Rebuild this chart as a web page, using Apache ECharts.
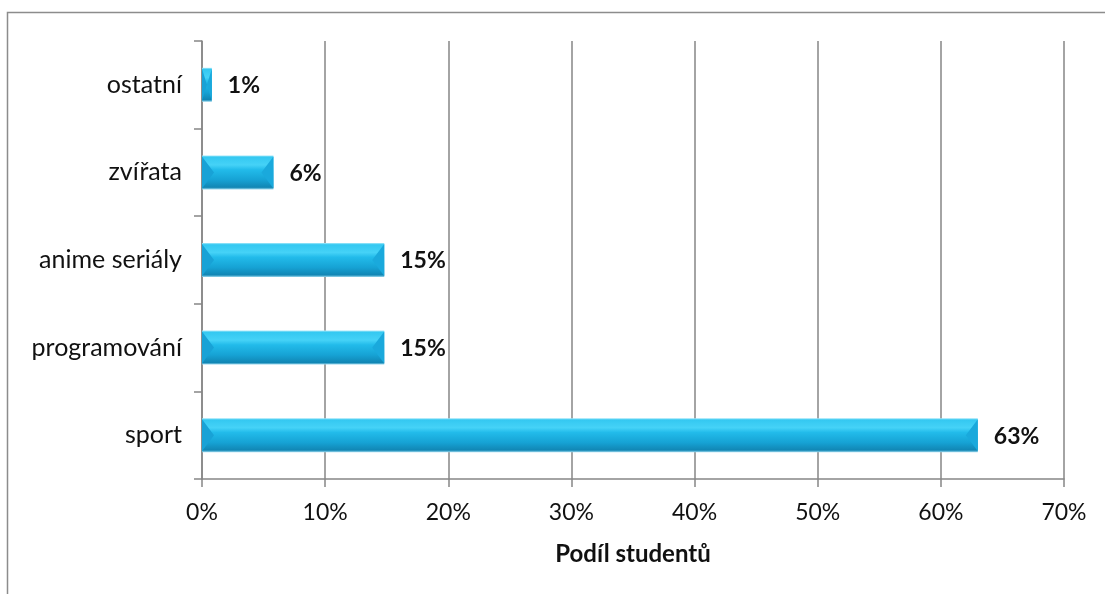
<!DOCTYPE html>
<html><head><meta charset="utf-8">
<script src="https://cdn.jsdelivr.net/npm/echarts@6/dist/echarts.min.js"></script>
<style>html,body{margin:0;padding:0;background:#fff}#c{width:1105px;height:594px}</style>
</head><body><div id="c"></div>
<script>
const categories = ['sport', 'programování', 'anime seriály', 'zvířata', 'ostatní'];
const shares = [63.0, 14.8, 14.8, 5.8, 0.8];
const xTicks = [0, 10, 20, 30, 40, 50, 60, 70];
const axisTitle = 'Podíl studentů';

const FONT = 'Lato, "Open Sans", sans-serif';
const chart = echarts.init(document.getElementById('c'));

function renderBar(params, api) {
  const cat = api.value(0);
  const val = api.value(1);
  const p0 = api.coord([0, cat]);
  const p1 = api.coord([val, cat]);
  const band = api.size([0, 1])[1];
  const h = band * 0.388;
  const x0 = p0[0], x1 = p1[0];
  const y0 = p0[1] - h / 2, y1 = p0[1] + h / 2, yc = p0[1];
  const w = x1 - x0;
  const b = Math.min(12, w / 2);
  const grad = new echarts.graphic.LinearGradient(0, 0, 0, 1, [
    {offset: 0, color: '#a6e8fa'},
    {offset: 0.05, color: '#34c8f1'},
    {offset: 0.28, color: '#45d2f7'},
    {offset: 0.42, color: '#22bbea'},
    {offset: 0.72, color: '#16a2d4'},
    {offset: 0.94, color: '#1186b4'},
    {offset: 1, color: '#9ad8ee'}
  ]);
  return {
    type: 'group',
    children: [
      {type: 'rect', shape: {x: x0, y: y0, width: w, height: h}, style: {fill: grad}},
      {type: 'polygon', shape: {points: [[x0, y0 + 1], [x0 + b, yc], [x0, y1 - 1]]}, style: {fill: '#18a2d6'}},
      {type: 'polygon', shape: {points: [[x1, y0 + 1], [x1 - b, yc], [x1, y1 - 1]]}, style: {fill: '#1aa9dc'}},
      {type: 'text', style: {
        text: Math.round(val) + '%', x: x1 + 16, y: yc + 1,
        align: 'left', verticalAlign: 'middle',
        fontSize: 23, fontWeight: 'bold', fill: '#111', fontFamily: FONT
      }}
    ]
  };
}

chart.setOption({
  animation: false,
  backgroundColor: '#fff',
  graphic: [{
    type: 'rect', silent: true, z: -1,
    shape: {x: 7.5, y: 12.5, width: 1300, height: 800},
    style: {fill: 'none', stroke: '#8c8c8c', lineWidth: 1.5}
  }],
  grid: {left: 202, right: 41, top: 41, bottom: 115},
  xAxis: {
    type: 'value', min: 0, max: 70, interval: 10,
    axisLine: {show: true, lineStyle: {color: '#868686', width: 1.5}},
    axisTick: {show: true, length: 8, lineStyle: {color: '#868686', width: 1.5}},
    splitLine: {show: true, lineStyle: {color: '#868686', width: 1.5}},
    axisLabel: {margin: 22, fontSize: 23, color: '#111', fontFamily: FONT, formatter: v => xTicks.includes(v) ? v + '%' : ''},
    name: axisTitle, nameLocation: 'middle', nameGap: 63,
    nameTextStyle: {fontSize: 24, fontWeight: 'bold', color: '#111', fontFamily: FONT}
  },
  yAxis: {
    type: 'category', data: categories, boundaryGap: true,
    axisLine: {show: true, lineStyle: {color: '#868686', width: 1.5}},
    axisTick: {show: true, length: 8, lineStyle: {color: '#868686', width: 1.5}},
    splitLine: {show: false},
    axisLabel: {margin: 20, fontSize: 25, color: '#111', fontFamily: FONT}
  },
  series: [{
    type: 'custom',
    renderItem: renderBar,
    encode: {x: 1, y: 0},
    data: shares.map((v, i) => [i, v])
  }]
});
</script>
</body></html>
